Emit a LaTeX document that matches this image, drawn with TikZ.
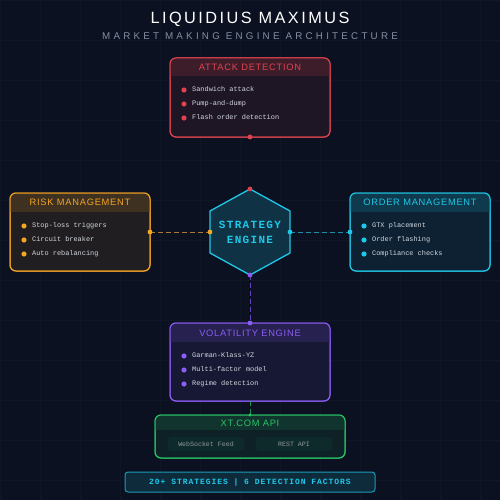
\documentclass[tikz,border=0pt]{standalone}
\usepackage{fontspec}
\setmainfont{Liberation Sans}
\setmonofont{Liberation Mono}
\newfontfamily\titlefont[LetterSpace=15]{Liberation Sans}
\newfontfamily\subfont[LetterSpace=33]{Liberation Sans}
\newfontfamily\hdrfont[LetterSpace=8]{Liberation Sans}
\newfontfamily\itemfont{Liberation Mono}
\newfontfamily\corefont[LetterSpace=12]{Liberation Mono}

\definecolor{bgc}{HTML}{0B1120}
\definecolor{gridc}{HTML}{0F1626}
\definecolor{attackc}{HTML}{E0434F}
\definecolor{riskc}{HTML}{F5A524}
\definecolor{orderc}{HTML}{1FC8E8}
\definecolor{volc}{HTML}{8B5CF6}
\definecolor{apic}{HTML}{27C565}
\definecolor{textc}{HTML}{D2D7E0}
\definecolor{subc}{HTML}{858FA3}
\definecolor{feedc}{HTML}{8E999E}

\begin{document}
\begin{tikzpicture}[x=1pt,y=-1pt,
      panel/.style={draw=#1,fill=#1!9!bgc,line width=1pt,rounded corners=6pt,
            inner sep=0pt,outer sep=0pt},
      edge/.style={draw=#1,line width=1pt,rounded corners=6pt},
      hdrtext/.style={text=#1,font=\hdrfont\fontsize{9.3}{11}\selectfont},
      item/.style={anchor=west,text=textc,inner sep=0pt,text height=5pt,text depth=1.5pt,
            font=\itemfont\fontsize{6.9}{8}\selectfont},
      link/.style={draw=#1,line width=1pt,dash pattern=on 5pt off 3pt,opacity=0.7}]
      \useasboundingbox (0,0) rectangle (500,500);
      \fill[bgc] (0,0) rectangle (500,500);
      \draw[gridc,line width=0.5pt] (0,0) grid[step=40pt] (500,500);

      % title
      \node[anchor=base,text=white,font=\titlefont\fontsize{16.3}{18}\selectfont]
            (title) at (250,24) {LIQUIDIUS MAXIMUS};
      \node[anchor=base,text=subc,font=\subfont\fontsize{9.8}{11}\selectfont]
            (subtitle) at (250,39.5) {MARKET MAKING ENGINE ARCHITECTURE};

      % attack detection
      \node[panel=attackc,minimum width=160pt,minimum height=79pt] (attack) at (250,97.5) {};
      \begin{scope}
            \clip[rounded corners=6pt] (attack.north west) rectangle (attack.south east);
            \fill[attackc!24!bgc] (attack.north west) rectangle ([yshift=-18pt]attack.north east);
      \end{scope}
      \draw[edge=attackc] (attack.north west) rectangle (attack.south east);
      \node[hdrtext=attackc] (attacktitle) at (250,67) {ATTACK DETECTION};
      \foreach \t [count=\i] in {Sandwich attack,Pump-and-dump,Flash order detection}{
            \fill[attackc] (184,76+14*\i) circle (2.6pt);
            \node[item] (attack\i) at (192,76+14*\i) {\t};
      }

      % risk management
      \node[panel=riskc,minimum width=140pt,minimum height=78pt] (risk) at (80,232) {};
      \begin{scope}
            \clip[rounded corners=6pt] (risk.north west) rectangle (risk.south east);
            \fill[riskc!22!bgc] (risk.north west) rectangle ([yshift=-19pt]risk.north east);
      \end{scope}
      \draw[edge=riskc] (risk.north west) rectangle (risk.south east);
      \node[hdrtext=riskc] (risktitle) at (80,202.5) {RISK MANAGEMENT};
      \foreach \t [count=\i] in {Stop-loss triggers,Circuit breaker,Auto rebalancing}{
            \fill[riskc] (24,212+14*\i) circle (2.6pt);
            \node[item] (risk\i) at (32,212+14*\i) {\t};
      }

      % order management
      \node[panel=orderc,minimum width=140pt,minimum height=78pt] (order) at (420,232) {};
      \begin{scope}
            \clip[rounded corners=6pt] (order.north west) rectangle (order.south east);
            \fill[orderc!22!bgc] (order.north west) rectangle ([yshift=-19pt]order.north east);
      \end{scope}
      \draw[edge=orderc] (order.north west) rectangle (order.south east);
      \node[hdrtext=orderc] (ordertitle) at (420,202.5) {ORDER MANAGEMENT};
      \foreach \t [count=\i] in {GTX placement,Order flashing,Compliance checks}{
            \fill[orderc] (364,212+14*\i) circle (2.6pt);
            \node[item] (order\i) at (372,212+14*\i) {\t};
      }

      % strategy engine
      \coordinate (hexN) at (250,189);
      \coordinate (hexE) at (290,232);
      \coordinate (hexS) at (250,275);
      \coordinate (hexW) at (210,232);
      \draw[orderc,line width=1.3pt,fill=orderc!18!bgc] (hexN) -- (290,211) -- (290,253)
            -- (hexS) -- (210,253) -- (210,211) -- cycle;
      \node[align=center,text=orderc,font=\corefont\bfseries\fontsize{11}{15}\selectfont]
            (core) at (250,232) {STRATEGY\\ENGINE};

      % volatility engine
      \node[panel=volc,minimum width=160pt,minimum height=78pt] (vol) at (250,362) {};
      \begin{scope}
            \clip[rounded corners=6pt] (vol.north west) rectangle (vol.south east);
            \fill[volc!22!bgc] (vol.north west) rectangle ([yshift=-18.5pt]vol.north east);
      \end{scope}
      \draw[edge=volc] (vol.north west) rectangle (vol.south east);
      \node[hdrtext=volc] (voltitle) at (250,333) {VOLATILITY ENGINE};
      \foreach \t [count=\i] in {Garman-Klass-YZ,Multi-factor model,Regime detection}{
            \fill[volc] (184,342+14*\i) circle (2.6pt);
            \node[item] (vol\i) at (192,342+14*\i) {\t};
      }

      % xt.com api
      \node[panel=apic,minimum width=190pt,minimum height=43pt] (api) at (250,436.5) {};
      \begin{scope}
            \clip[rounded corners=6pt] (api.north west) rectangle (api.south east);
            \fill[apic!20!bgc] (api.north west) rectangle ([yshift=-15pt]api.north east);
      \end{scope}
      \draw[edge=apic] (api.north west) rectangle (api.south east);
      \node[hdrtext=apic] (apititle) at (250,423) {XT.COM API};
      \node[fill=apic!14!bgc,rounded corners=3pt,minimum width=76pt,minimum height=14pt,
            text=feedc,font=\itemfont\fontsize{6.6}{8}\selectfont] (feed) at (206,444) {WebSocket Feed};
      \node[fill=apic!14!bgc,rounded corners=3pt,minimum width=76pt,minimum height=14pt,
            text=feedc,font=\itemfont\fontsize{6.6}{8}\selectfont] (rest) at (294,444) {REST API};

      % footer
      \node[draw=orderc!75!bgc,fill=orderc!14!bgc,line width=1pt,rounded corners=3pt,
            minimum width=250pt,minimum height=20pt,text=orderc,
            font=\corefont\bfseries\fontsize{8}{10}\selectfont] (stats) at (250,482)
            {20+ STRATEGIES | 6 DETECTION FACTORS};

      % links
      \draw[link=riskc] (risk.east) -- (hexW);
      \draw[link=orderc] (hexE) -- (order.west);
      \draw[link=volc] (hexS) -- (vol.north);
      \draw[link=apic] (vol.south) -- (api.north);
      \fill[attackc] (attack.south) circle (2.4pt);
      \fill[attackc] (hexN) circle (2.4pt);
      \fill[riskc] (risk.east) circle (2.4pt);
      \fill[riskc] (hexW) circle (2.4pt);
      \fill[orderc] (hexE) circle (2.4pt);
      \fill[orderc] (order.west) circle (2.4pt);
      \fill[volc] (hexS) circle (2.4pt);
      \fill[volc] (vol.north) circle (2.4pt);
      \fill[apic] (api.north) circle (1.6pt);
\end{tikzpicture}
\end{document}
